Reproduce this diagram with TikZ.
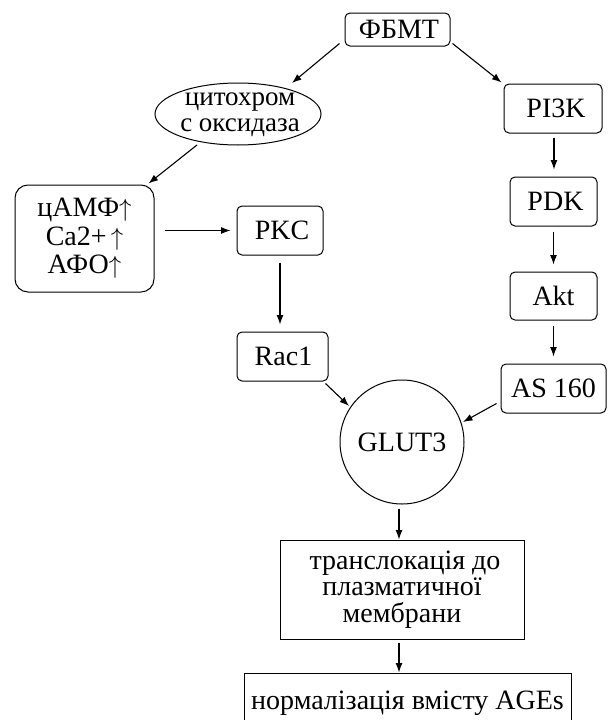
\documentclass[tikz,border=0pt]{standalone}
\usepackage{fontspec}
\setmainfont{Liberation Serif}
\usetikzlibrary{arrows.meta,shapes.geometric,calc}
\begin{document}
\begin{tikzpicture}[x=1pt,y=-1pt,
  every node/.style={font=\fontsize{28}{28}\selectfont, inner sep=0pt, align=center},
  rbox/.style={draw, rounded corners=5pt, line width=1pt},
  sbox/.style={draw, line width=1pt},
  arr/.style={-{Latex[length=9.5pt,width=7pt]}, line width=1.1pt},
]
\clip (0,0) rectangle (608,720);
\useasboundingbox (0,0) rectangle (608,720);
\node[rbox, minimum width=105pt, minimum height=33pt] (fbmt) at (397.5,29.5) {\hspace*{3pt}ФБМТ};
\node[draw, ellipse, line width=1pt, minimum width=166pt, minimum height=62pt] (cyt) at (238,114) {};
\node[font=\fontsize{27}{26}\selectfont] (cyttxt) at (240,115) {цитохром\\с оксидаза};
\node[rbox, minimum width=98pt, minimum height=49pt] (pi3k) at (553,108.5) {\hspace*{6pt}PI3K};
\node[rbox, minimum width=87pt, minimum height=49pt] (pdk) at (553.5,201.5) {\hspace*{4pt}PDK};
\node[rbox, minimum width=87pt, minimum height=48pt] (akt) at (553.5,296) {Akt};
\node[rbox, minimum width=105pt, minimum height=49pt] (as) at (553.5,388.5) {AS 160};
\node[rbox, rounded corners=13pt, minimum width=139pt, minimum height=107pt, font=\fontsize{28}{28.5}\selectfont] (camp) at (84.5,238.5) {цАМФ$\uparrow$\\Ca2+$\,\uparrow$\\АФО$\uparrow$};
\node[rbox, minimum width=86pt, minimum height=49pt] (pkc) at (280,230.5) {\hspace*{4pt}PKC};
\node[rbox, minimum width=91pt, minimum height=49pt] (rac) at (282.5,356.5) {\hspace*{2pt}Rac1};
\node[draw, circle, line width=1pt, minimum size=124pt] (glut) at (402,442) {GLUT3};
\node[sbox, minimum width=244pt, minimum height=99pt, font=\fontsize{28}{26.5}\selectfont] (trans) at (402,589.5) {\hspace*{6pt}транслокація до\\плазматичної\\мембрани};
\node[sbox, minimum width=327pt, minimum height=60pt] (final) at (407.5,703) {нормалізація вмісту AGEs};
\draw[arr] ($(fbmt.south west)+(-5,-3)$) -- ($(cyt.center)+(54,-31)$);
\draw[arr] ($(fbmt.south east)+(2,-3)$) -- ($(pi3k.north west)+(-2,-1)$);
\draw[arr] ($(cyt.center)+(-41,31)$) -- ($(camp.north east)+(-6,-1)$);
\draw[arr] ($(camp.east|-pkc.west)+(10,0)$) -- ($(pkc.west)+(-6,0)$);
\draw[arr] ($(pkc.south)+(0,7)$) -- ($(pkc.south|-rac.north)+(0,-7)$);
\draw[arr] ($(pi3k.south)+(1,4)$) -- ($(pi3k.south|-pdk.north)+(1,-7)$);
\draw[arr] ($(pdk.south)+(0,5)$) -- ($(pdk.south|-akt.north)+(0,-7)$);
\draw[arr] ($(akt.south)+(0,5)$) -- ($(akt.south|-as.north)+(0,-7)$);
\draw[arr] ($(rac.south east)+(-3,2)$) -- ($(glut.center)+(-53,-36)$);
\draw[arr] ($(as.south west)+(-4,-10)$) -- ($(glut.center)+(61,-20)$);
\draw[arr] ($(glut.south)+(-3,4)$) -- ($(trans.north)+(-3,0)$);
\draw[arr] ($(trans.south)+(-3,3)$) -- ($(trans.south|-final.north)+(-3,0)$);
\end{tikzpicture}
\end{document}
